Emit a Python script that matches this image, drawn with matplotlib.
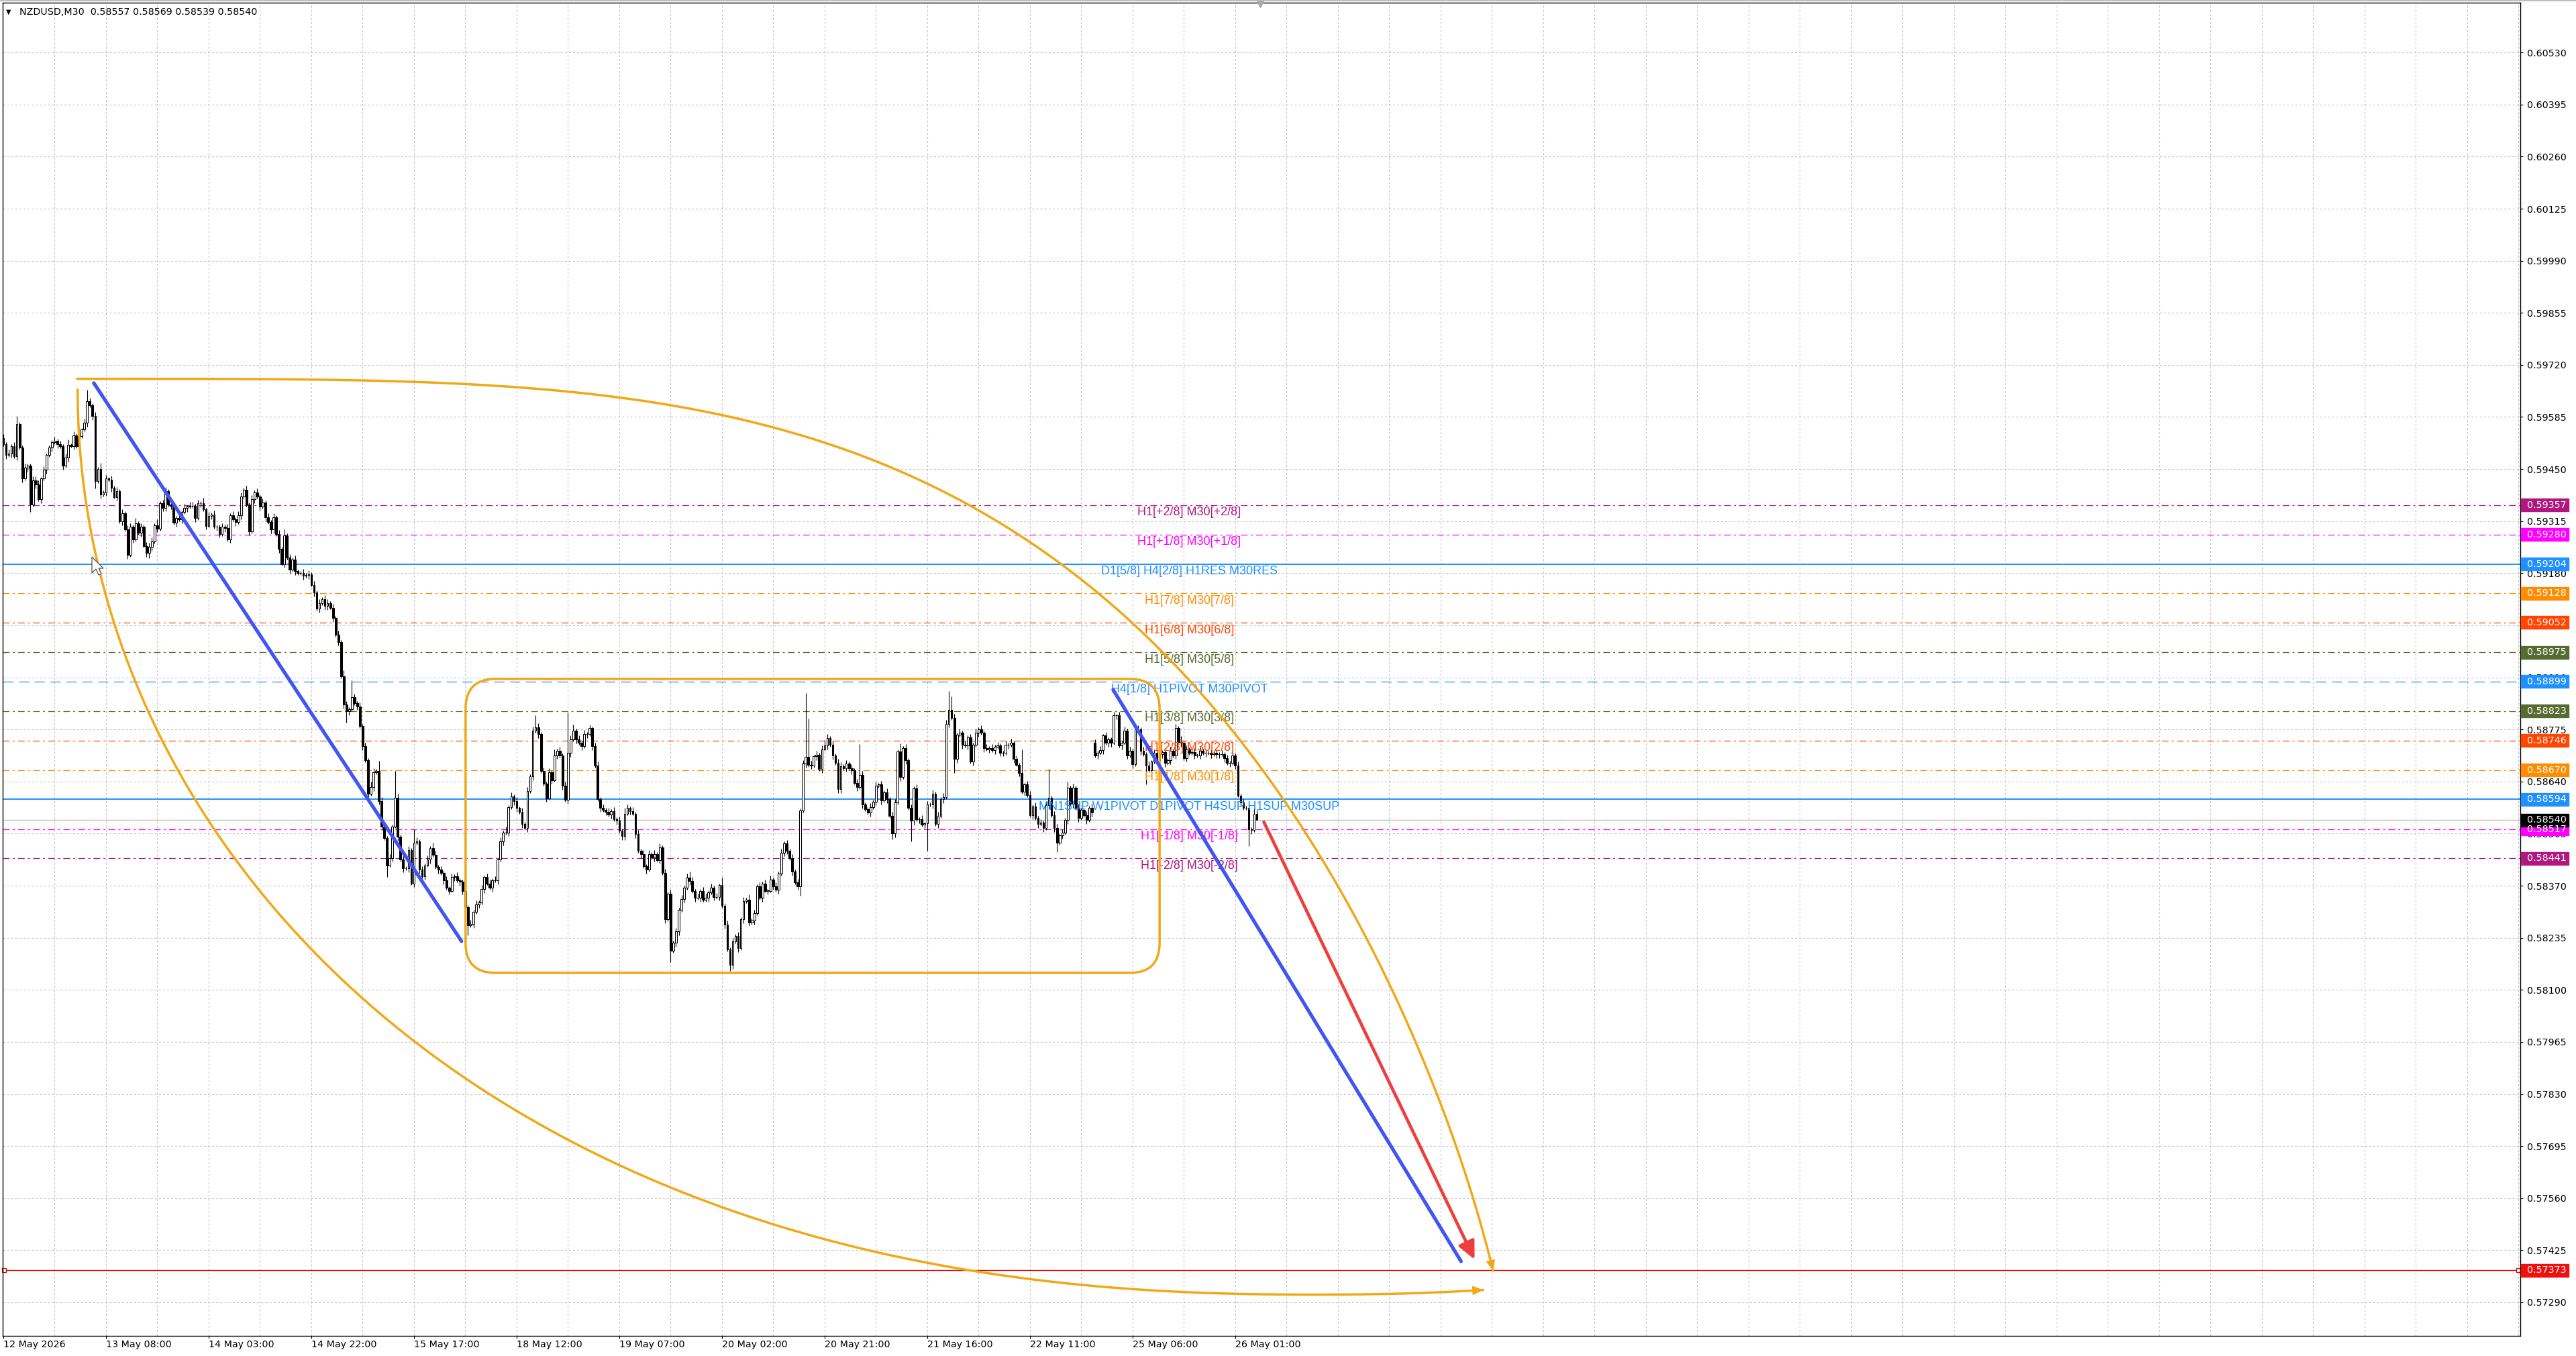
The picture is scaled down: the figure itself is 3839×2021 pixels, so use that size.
import matplotlib
matplotlib.use("Agg")
import matplotlib.pyplot as plt
import numpy as np
from matplotlib.patches import Rectangle, FancyBboxPatch, Polygon
from matplotlib.transforms import blended_transform_factory

plt.rcParams['font.family'] = ['DejaVu Sans']
plt.rcParams['lines.scale_dashes'] = False

W, H, DPI = 3839, 2021, 100

symbol = "NZDUSD,M30"
last_ohlc = "0.58557 0.58569 0.58539 0.58540"

# M30 closes, in points (0.00001) above 0.58000
base = 0.58
first_open = 1530
closes = [
    1514, 1486, 1490, 1509, 1483, 1567, 1506, 1425, 1454, 1459,
    1358, 1421, 1410, 1372, 1425, 1448, 1486, 1506, 1520, 1523,
    1514, 1509, 1459, 1480, 1512, 1510, 1537, 1509, 1535, 1552,
    1570, 1625, 1616, 1588, 1419, 1450, 1384, 1390, 1425, 1422,
    1401, 1378, 1393, 1314, 1336, 1294, 1227, 1300, 1268, 1309,
    1285, 1300, 1251, 1233, 1248, 1262, 1304, 1296, 1361, 1350,
    1393, 1358, 1355, 1311, 1323, 1320, 1338, 1349, 1352, 1355,
    1355, 1323, 1361, 1361, 1345, 1303, 1329, 1332, 1300, 1300,
    1282, 1300, 1297, 1268, 1330, 1320, 1313, 1330, 1379, 1396,
    1358, 1288, 1372, 1390, 1379, 1352, 1364, 1325, 1313, 1294,
    1325, 1282, 1243, 1204, 1278, 1220, 1189, 1216, 1185, 1181,
    1181, 1173, 1175, 1177, 1150, 1130, 1088, 1102, 1113, 1095,
    1103, 1091, 1064, 1021, 1002, 913, 839, 822, 827, 858,
    843, 835, 784, 731, 695, 609, 625, 664, 668, 590,
    524, 493, 423, 442, 524, 598, 497, 438, 415, 415,
    462, 376, 481, 485, 411, 395, 423, 438, 467, 450,
    419, 411, 403, 384, 364, 357, 392, 395, 384, 380,
    357, 314, 267, 271, 302, 322, 326, 361, 392, 376,
    364, 384, 384, 438, 485, 508, 508, 574, 602, 589,
    571, 562, 530, 519, 615, 653, 772, 781, 763, 667,
    635, 597, 664, 644, 708, 720, 708, 629, 592, 714,
    749, 772, 749, 740, 731, 763, 763, 778, 731, 682,
    595, 571, 567, 562, 554, 564, 542, 539, 513, 499,
    557, 571, 564, 557, 504, 461, 452, 420, 411, 452,
    443, 452, 437, 469, 403, 283, 350, 202, 222, 251,
    307, 336, 365, 391, 382, 356, 339, 339, 356, 333,
    339, 353, 365, 341, 341, 371, 318, 269, 205, 164,
    225, 240, 208, 283, 330, 333, 275, 280, 298, 368,
    339, 376, 357, 357, 386, 369, 360, 401, 456, 479,
    461, 441, 407, 378, 369, 565, 686, 704, 683, 682,
    705, 709, 672, 724, 733, 753, 735, 707, 689, 620,
    680, 675, 686, 675, 669, 637, 626, 657, 580, 568,
    560, 574, 588, 629, 632, 591, 612, 594, 551, 505,
    585, 718, 652, 727, 695, 571, 539, 623, 542, 542,
    528, 531, 580, 580, 608, 530, 551, 594, 600, 790,
    825, 805, 698, 761, 767, 735, 733, 754, 692, 735,
    767, 776, 767, 727, 724, 727, 721, 730, 733, 715,
    715, 735, 735, 741, 698, 684, 663, 614, 632, 605,
    553, 575, 546, 530, 533, 520, 578, 598, 553, 520,
    482, 501, 507, 540, 624, 582, 624, 572, 546, 566,
    553, 540, 572, 559, 708, 714, 721, 759, 740, 750,
    740, 811, 811, 733, 740, 772, 708, 720, 685, 775,
    775, 720, 711, 682, 669, 691, 714, 695, 711, 717,
    688, 695, 720, 708, 779, 743, 740, 701, 724, 714,
    717, 708, 708, 720, 714, 714, 714, 711, 714, 711,
    711, 711, 700, 688, 688, 708, 682, 604, 585, 572,
    572, 517, 514, 557, 540,
]
gap_open = {404: 740}   # Monday open after the weekend gap

# wick lengths per bar, base-36 digit, in units of 5 points
wick_unit = 5
up_wick = "".join([
    "2121241121", "1222121112", "1212312121", "2621213121", "2121212213",
    "1212221312", "2112121212", "2121312121", "1212121221", "2121212121",
    "2121312121", "1212121212", "2121213219", "2121213215", "21121e2121",
    "2172121213", "2121212121", "1212121212", "2121213121", "2121212621",
    "212131212l", "2312121212", "2121212121", "3212121212", "1212121212",
    "1212321212", "2121214121", "2121213121", "2121212121", "2121212xk2",
    "1212321212", "2121212g21", "1212121212", "2141212121", "2121212122",
    "a721212121", "2121212121", "1212121c12", "2121212f12", "2121312121",
    "1212212121", "1212121212", "2121212121", "2121213121", "1212121212",
    "1212121212", "12132",
])
dn_wick = "".join([
    "1212121212", "4121212121", "2121212121", "1212412121", "2121212121",
    "1212321212", "2121212121", "1212121212", "2121212121", "1212121212",
    "2121212121", "1212121212", "2121212621", "1212121212", "2161212121",
    "2121212121", "1212121212", "2151212121", "1212121212", "2121212121",
    "1212121212", "2121212121", "1212121212", "2121212121", "1212121612",
    "2121212121", "1212121213", "2121212121", "1212121212", "2121251212",
    "1212121212", "2121212121", "1212121213", "212121b212", "12e1212121",
    "2172121212", "1212121212", "2121212121", "1212121212", "5121212121",
    "1212121212", "2121212121", "121a121212", "2121212121", "1212121212",
    "2121212121", "19210",
])

time_labels = ["12 May 2026", "13 May 08:00", "14 May 03:00", "14 May 22:00",
               "15 May 17:00", "18 May 12:00", "19 May 07:00", "20 May 02:00",
               "20 May 21:00", "21 May 16:00", "22 May 11:00", "25 May 06:00",
               "26 May 01:00"]
bars_per_label = 38

level_prices = [0.59357, 0.59280, 0.59204, 0.59128, 0.59052, 0.58975, 0.58899,
                0.58823, 0.58746, 0.58670, 0.58594, 0.58517, 0.58441]
level_texts = ["H1[+2/8] M30[+2/8]", "H1[+1/8] M30[+1/8]",
               "D1[5/8] H4[2/8] H1RES M30RES", "H1[7/8] M30[7/8]",
               "H1[6/8] M30[6/8]", "H1[5/8] M30[5/8]",
               "H4[1/8] H1PIVOT M30PIVOT", "H1[3/8] M30[3/8]",
               "H1[2/8] M30[2/8]", "H1[1/8] M30[1/8]",
               "MN1SUP W1PIVOT D1PIVOT H4SUP H1SUP M30SUP",
               "H1[-1/8] M30[-1/8]", "H1[-2/8] M30[-2/8]"]
level_colors = ["#B0177F", "#FF00FF", "#1E90FF", "#FF8C00", "#FF4500", "#556B2F",
                "#1E90FF", "#556B2F", "#FF4500", "#FF8C00", "#1E90FF", "#FF00FF",
                "#B0177F"]
level_kind = ["dashdot", "dashdot", "solid", "dashdot", "dashdot", "dashdot",
              "dashed", "dashdot", "dashdot", "dashdot", "solid", "dashdot",
              "dashdot"]
bid_price = 0.58540
target_price = 0.57373

# drawn objects, anchored in (bar, price) like the terminal objects
box_range = (171.1, 428.0, 0.58144, 0.58906)
blue_lines = [((33.5, 0.59673), (169.6, 0.58226)), ((410.8, 0.58878), (539.6, 0.57396))]
red_arrow = ((466.6, 0.58535), (544.6, 0.57401))
upper_arc = dict(start=(27.3, 0.59684), size=(529.0, 0.0250), stop=0.9908)
lower_arc = dict(start=(27.5, 0.59656), bottom=(485.2, 0.57310), stop=547.8)

# ---------------------------------------------------------------
fig = plt.figure(figsize=(W / DPI, H / DPI), dpi=DPI)
ax_l, ax_r, ax_t, ax_b = 4, 3756, 4, 1991
ax = fig.add_axes([ax_l / W, 1 - ax_b / H, (ax_r - ax_l) / W, (ax_b - ax_t) / H])
bar_px = 4.026
x0 = -1 / bar_px
x1 = x0 + (ax_r - ax_l) / bar_px
y_lo, y_hi = 0.57203, 0.60659
ax.set_xlim(x0, x1)
ax.set_ylim(y_lo, y_hi)

for s in ax.spines.values():
    s.set_color("black")
    s.set_linewidth(1.0)

# grid
grid_kw = dict(color="#C4C4C4", lw=0.8, linestyle=(0, (2.2, 2.2)), zorder=0.5)
yticks = np.round(np.arange(0.57290, 0.60600, 0.00135), 5)
for y in yticks:
    ax.axhline(y, **grid_kw)
for gx in np.arange(19, x1, 19):
    ax.axvline(gx, **grid_kw)

# levels
styles = {"solid": "-", "dashed": (0, (11, 6)), "dashdot": (0, (7, 3.6, 2, 3.6))}
for p, col, kind in zip(level_prices, level_colors, level_kind):
    ax.axhline(p, color=col, lw=1.4 if kind == "solid" else 0.9,
               linestyle=styles[kind], zorder=1.5)
ax.axhline(bid_price, color="#C0C0C0", lw=1.0, zorder=1.4)
ax.axhline(target_price, color="#E00000", lw=1.0, zorder=1.6)
ax.plot([x0 + 0.6, x1 - 0.8], [target_price] * 2, ls="none", marker="s", ms=4,
        mfc="white", mec="#E00000", mew=0.9, zorder=1.7, clip_on=False)

# candles
n = len(closes)
bars = np.arange(n)
c = base + np.array(closes) * 1e-5
o = np.concatenate([[base + first_open * 1e-5], c[:-1]])
for k, v in gap_open.items():
    o[k] = base + v * 1e-5
up = np.array([int(ch, 36) for ch in up_wick[:n]]) * wick_unit * 1e-5
dn = np.array([int(ch, 36) for ch in dn_wick[:n]]) * wick_unit * 1e-5
hi = np.maximum(o, c) + up
lo = np.minimum(o, c) - dn
ax.vlines(bars, lo, hi, color="black", lw=0.8, zorder=3)
bull = c >= o
body_h = np.maximum(np.abs(c - o), 0.3e-5)
body_b = np.minimum(o, c)
ax.bar(bars[bull], body_h[bull], bottom=body_b[bull], width=0.68,
       color="white", edgecolor="black", lw=0.75, zorder=3.2)
ax.bar(bars[~bull], body_h[~bull], bottom=body_b[~bull], width=0.68,
       color="black", edgecolor="black", lw=0.75, zorder=3.2)

# level captions
text_bar = 439
for p, t, col in zip(level_prices, level_texts, level_colors):
    ax.annotate(t, xy=(text_bar, p), xytext=(0, -8), textcoords="offset points",
                ha="center", va="center", fontsize=13, color=col,
                family=["Liberation Sans", "DejaVu Sans"], zorder=4)

# objects
orange = "#F1A817"
asp = bar_px / ((ax_b - ax_t) / (y_hi - y_lo))
bx0, bx1, by0, by1 = box_range
ax.add_patch(FancyBboxPatch((bx0, by0), bx1 - bx0, by1 - by0,
                            boxstyle="round,pad=0,rounding_size=11",
                            mutation_aspect=asp, fill=False, ec=orange, lw=2.5,
                            zorder=5))


def head(xs, ys, color, scale):
    ax.annotate("", xy=(xs[-1], ys[-1]), xytext=(xs[-40], ys[-40]),
                arrowprops=dict(arrowstyle="-|>,head_length=0.8,head_width=0.35",
                                color=color, lw=1.2, shrinkA=0, shrinkB=0,
                                mutation_scale=scale), zorder=5)


t = np.linspace(0, 1, 3000)
(sx, sy), (aw, ah) = upper_arc["start"], upper_arc["size"]
u = upper_arc["stop"] * (1 - (1 - t) ** 2)
v = 1 - (1 - u ** 3.8) ** (1 / 1.3)
ux, uy = sx + aw * u, sy - ah * v
ax.plot(ux, uy, color=orange, lw=2.5, solid_capstyle="round", zorder=5)
head(ux, uy, orange, 12)

(sx, sy), (bx, by) = lower_arc["start"], lower_arc["bottom"]
lx = sx + (lower_arc["stop"] - sx) * t ** 2
s_ = np.abs(bx - lx) / (bx - sx)
v = (1 - s_ ** 2.3) ** (1 / 2.0)
ly = sy - (sy - by) * v
ax.plot(lx, ly, color=orange, lw=2.5, solid_capstyle="round", zorder=5)
head(lx, ly, orange, 12)

for (px0, py0), (px1, py1) in blue_lines:
    ax.plot([px0, px1], [py0, py1], color="#4055F2", lw=3.8, solid_capstyle="round",
            zorder=6)

(rx0, ry0), (rx1, ry1) = red_arrow
ax.annotate("", xy=(rx1, ry1), xytext=(rx0, ry0),
            arrowprops=dict(arrowstyle="-|>,head_length=0.8,head_width=0.38",
                            color="#EE3E3E", lw=3.4, shrinkA=0, shrinkB=0,
                            mutation_scale=20), zorder=6)

# axes ticks
ax.yaxis.tick_right()
ax.set_yticks(yticks)
ax.set_yticklabels(["%.5f" % y for y in yticks])
ax.tick_params(axis="y", length=3, pad=4, labelsize=10.3, width=0.8)
ax.set_xticks(np.arange(len(time_labels)) * bars_per_label)
ax.set_xticklabels(time_labels)
ax.tick_params(axis="x", length=3, pad=1.5, labelsize=10.3, width=0.8)
for lbl in ax.get_xticklabels():
    lbl.set_ha("left")

# price boxes on the scale
tr = blended_transform_factory(ax.transAxes, ax.transData)
box_h = 19 / ((ax_b - ax_t) / (y_hi - y_lo))
box_w = 71 / (ax_r - ax_l)
tags = list(zip(level_prices, level_colors)) + [(bid_price, "black"), (target_price, "#F01010")]
for p, col in tags:
    ax.add_patch(Rectangle((1.0003, p - box_h / 2), box_w, box_h, transform=tr,
                           color=col, clip_on=False, zorder=10))
    ax.text(1.0026, p, "%.5f" % p, transform=tr, ha="left", va="center",
            fontsize=10.3, color="white", clip_on=False, zorder=11)

# header, chart shift marker, mouse pointer
fig.text(13 / W, 1 - 18 / H, "\u25BC", ha="center", va="center", fontsize=7)
fig.text(29 / W, 1 - 18 / H, symbol + "  " + last_ohlc, ha="left", va="center",
         fontsize=10.3)
ax.plot([465.2], [y_hi - 0.00003], marker="v", ms=7, color="#A8A8A8",
        clip_on=False, zorder=12)
fig.add_artist(plt.Line2D([0, 1], [1 - 0.5 / H] * 2, color="#B0B0B0", lw=1.2))

cur_x, cur_y = 137, H - 830
cursor = np.array([(0, 0), (0, -24), (6, -18), (10, -27), (14, -25), (10, -17), (17, -17)])
fig.add_artist(Polygon(cursor + (cur_x, cur_y), closed=True, transform=None,
                       fc="white", ec="#505050", lw=0.9, zorder=20))

fig.savefig("out.png", dpi=DPI)
